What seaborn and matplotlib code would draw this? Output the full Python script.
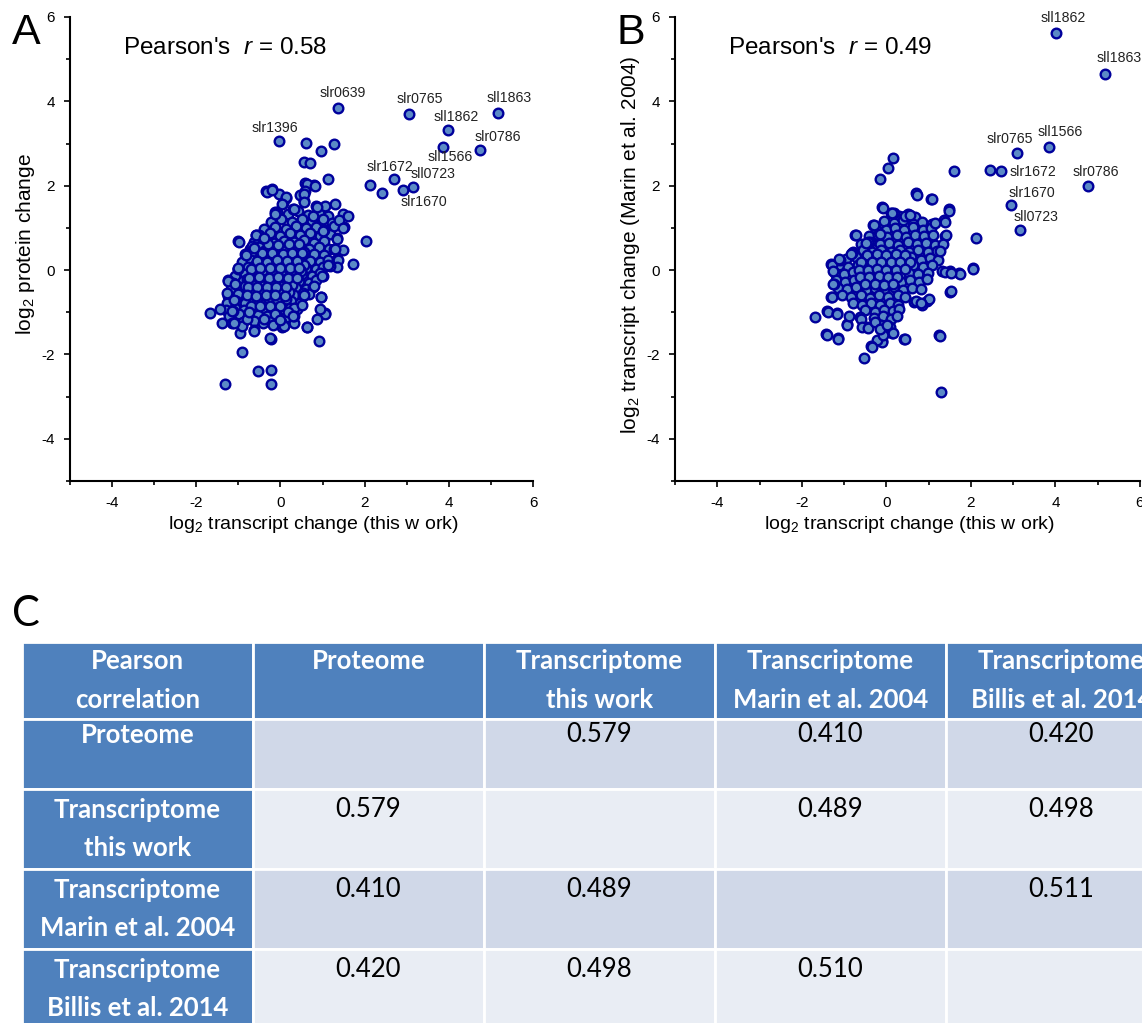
import matplotlib
matplotlib.use("Agg")
import matplotlib.pyplot as plt
import seaborn as sns

# ---- panel A: log2 protein change vs log2 transcript change (this work) ----
# dense centre of the cloud
a_core = [
    (-0.08, 1.38), (0.18, 1.32), (0.42, 1.40), (0.66, 1.30), (0.92, 1.36), (1.12, 1.28),
    (-0.22, 1.15), (0.02, 1.20), (0.27, 1.14), (0.51, 1.22), (0.76, 1.16), (1.00, 1.21), (1.22, 1.12),
    (-0.38, 0.98), (-0.12, 1.03), (0.12, 0.97), (0.36, 1.04), (0.60, 0.99), (0.84, 1.02), (1.08, 0.95),
    (-0.50, 0.84), (-0.26, 0.88), (-0.02, 0.82), (0.22, 0.87), (0.47, 0.83), (0.71, 0.88), (0.95, 0.82), (1.18, 0.86),
    (-0.62, 0.66), (-0.40, 0.71), (-0.16, 0.65), (0.08, 0.70), (0.32, 0.66), (0.56, 0.72), (0.80, 0.65), (1.04, 0.70),
    (-0.72, 0.50), (-0.50, 0.55), (-0.27, 0.49), (-0.04, 0.54), (0.20, 0.50), (0.44, 0.55), (0.68, 0.49), (0.92, 0.54), (1.15, 0.51),
    (-0.82, 0.34), (-0.60, 0.39), (-0.37, 0.33), (-0.14, 0.38), (0.10, 0.34), (0.33, 0.39), (0.57, 0.33), (0.80, 0.38), (1.04, 0.35),
    (-0.92, 0.18), (-0.70, 0.23), (-0.47, 0.17), (-0.24, 0.22), (0.00, 0.18), (0.23, 0.23), (0.46, 0.17), (0.70, 0.22), (0.94, 0.19), (1.12, 0.24),
    (-1.00, 0.02), (-0.78, 0.07), (-0.55, 0.01), (-0.32, 0.06), (-0.09, 0.02), (0.14, 0.07), (0.37, 0.01), (0.60, 0.06), (0.84, 0.02), (1.02, 0.08),
    (-1.08, -0.14), (-0.85, -0.09), (-0.62, -0.15), (-0.40, -0.10), (-0.17, -0.14), (0.06, -0.09), (0.29, -0.15), (0.52, -0.10), (0.75, -0.14), (0.93, -0.08),
    (-1.12, -0.30), (-0.90, -0.25), (-0.68, -0.31), (-0.46, -0.26), (-0.23, -0.30), (0.00, -0.25), (0.22, -0.31), (0.45, -0.26), (0.67, -0.30), (0.85, -0.24),
    (-1.18, -0.46), (-0.96, -0.41), (-0.74, -0.47), (-0.52, -0.42), (-0.30, -0.46), (-0.07, -0.41), (0.15, -0.47), (0.38, -0.42), (0.60, -0.46), (0.78, -0.40),
    (-1.24, -0.62), (-1.02, -0.57), (-0.80, -0.63), (-0.58, -0.58), (-0.36, -0.62), (-0.13, -0.57), (0.09, -0.63), (0.31, -0.58), (0.53, -0.62), (0.68, -0.56),
    (-1.28, -0.78), (-1.06, -0.73), (-0.84, -0.79), (-0.62, -0.74), (-0.40, -0.78), (-0.18, -0.73), (0.04, -0.79), (0.26, -0.74), (0.46, -0.78),
    (-1.30, -0.94), (-1.08, -0.89), (-0.86, -0.95), (-0.64, -0.90), (-0.42, -0.94), (-0.20, -0.89), (0.02, -0.95), (0.22, -0.90), (0.40, -0.93),
    (-1.22, -1.10), (-0.98, -1.05), (-0.76, -1.11), (-0.54, -1.06), (-0.32, -1.10), (-0.10, -1.05), (0.12, -1.11),
    (-0.88, -1.24), (-0.64, -1.20), (-0.42, -1.25), (-0.20, -1.21), (0.02, -1.24),
    (-0.40, 0.45), (-0.15, 0.44), (0.08, 0.45), (0.32, 0.46), (0.55, 0.44),
    (-0.50, 0.28), (-0.27, 0.29), (-0.03, 0.27), (0.21, 0.29), (0.45, 0.28),
    (-0.60, 0.11), (-0.36, 0.12), (-0.13, 0.10), (0.11, 0.12), (0.34, 0.11), (0.57, 0.12),
    (-0.66, -0.05), (-0.44, -0.04), (-0.21, -0.05), (0.02, -0.04), (0.25, -0.05), (0.48, -0.03),
    (-0.80, -0.21), (-0.57, -0.20), (-0.34, -0.22), (-0.11, -0.20), (0.12, -0.21), (0.35, -0.20),
    (-0.85, -0.37), (-0.63, -0.36), (-0.41, -0.38), (-0.18, -0.36), (0.05, -0.37), (0.27, -0.36),
    (-0.70, -0.52), (-0.47, -0.53), (-0.25, -0.51), (-0.02, -0.52), (0.20, -0.53),
    (-0.55, -0.68), (-0.30, -0.67), (-0.08, -0.69), (0.14, -0.68),
    (-0.30, 0.62), (-0.05, 0.60), (0.20, 0.61), (0.45, 0.63),
    (-0.45, 0.40), (-0.20, 0.41), (0.05, 0.39), (0.28, 0.41), (0.52, 0.40),
    (-0.55, 0.22), (-0.32, 0.20), (-0.08, 0.23), (0.16, 0.21), (0.40, 0.22),
    (-0.70, 0.03), (-0.48, 0.05), (-0.25, 0.04), (-0.02, 0.06), (0.22, 0.04), (0.45, 0.05),
    (-0.75, -0.18), (-0.52, -0.17), (-0.28, -0.19), (-0.05, -0.17), (0.18, -0.18), (0.40, -0.19),
    (-0.78, -0.40), (-0.55, -0.39), (-0.33, -0.41), (-0.10, -0.39), (0.12, -0.40),
    (-0.80, -0.60), (-0.58, -0.61), (-0.35, -0.59), (-0.12, -0.60), (0.10, -0.61),
    (-0.70, -0.85), (-0.48, -0.84), (-0.25, -0.86), (-0.02, -0.84),
]
# scattered points round the centre
a_edge = [
    (0.60, 3.01), (1.27, 2.98), (0.97, 2.82), (0.55, 2.57), (0.70, 2.55), (1.13, 2.15),
    (0.59, 2.06), (0.80, 2.01), (0.62, 2.03), (0.83, 1.99), (-0.34, 1.88), (-0.21, 1.92), (0.59, 1.88),
    (-0.04, 1.80), (0.13, 1.72), (0.47, 1.77), (0.55, 1.64), (0.07, 1.59), (0.55, 1.81), (0.57, 1.62),
    (0.85, 1.51), (1.06, 1.51), (1.29, 1.56), (0.87, 1.49), (-0.14, 1.37), (0.30, 1.45), (0.32, 1.44),
    (1.48, 1.33), (1.61, 1.28), (1.27, 1.05), (1.51, 1.02), (1.38, 1.18), (1.49, 1.00), (1.04, 0.96),
    (1.35, 0.76), (1.34, 0.73), (1.28, 0.51), (1.48, 0.47), (1.30, 0.49), (1.34, 0.27), (1.36, 0.25),
    (1.72, 0.15), (1.34, 0.07), (1.17, 0.09), (1.13, 0.11), (1.02, -0.14), (0.99, -0.14), (0.79, -0.37),
    (0.96, -0.64), (0.97, -0.63), (1.06, -1.02), (1.07, -1.03), (0.87, -1.16), (0.62, -1.34),
    (0.63, -1.35), (0.91, -1.69), (0.32, -1.26), (0.32, -0.91), (0.32, -1.09), (0.04, -1.34), (0.08, -1.33),
    (-0.23, -1.63), (-0.25, -1.62), (-0.91, -1.94), (-0.53, -2.39), (-0.23, -2.36), (-0.23, -2.69),
    (-1.31, -2.71), (-1.67, -1.01), (-1.44, -0.92), (-1.40, -1.26), (-1.16, -1.26), (-0.96, -1.50),
    (-0.92, -1.32), (-0.62, -1.42), (-0.63, -1.45), (-1.25, -0.24), (-1.26, -0.55), (-1.24, -0.26),
    (-1.07, -0.34), (-1.02, 0.02), (-1.01, 0.04), (-1.00, 0.68), (-0.99, 0.66), (-0.84, 0.38),
    (-0.83, 0.36), (-0.58, 0.84), (-0.57, 0.83), (-0.68, 0.56), (-0.63, 0.53), (-0.40, 0.77),
    (-0.32, 1.85), (-0.20, 1.89), (0.14, 1.73), (0.04, 1.57), (-0.14, 1.34),
    (-1.10, -0.71), (-1.13, -0.96), (-1.14, -0.96), (-1.11, -1.25), (-0.79, -1.17), (-0.74, -1.00),
    (-0.38, -1.16), (-0.14, -1.04), (-0.18, -1.29), (0.00, -1.19), (0.19, -0.99), (0.30, -1.08),
    (0.52, -0.83), (0.53, -0.55), (0.57, -0.58), (0.78, 1.28), (1.02, 0.92), (2.03, 0.70),
    (2.12, 2.01), (2.41, 1.82), (0.93, -0.93),
]
a_genes = ["slr0639", "slr0765", "sll1863", "sll1862", "slr0786",
           "sll1566", "slr1396", "slr1672", "sll0723", "slr1670"]
a_gene_xy = [(1.37, 3.84), (3.06, 3.70), (5.18, 3.73), (3.99, 3.31), (4.75, 2.84),
             (3.85, 2.91), (-0.03, 3.05), (2.69, 2.15), (3.15, 1.96), (2.92, 1.90)]
a_label_xy = [(1.47, 4.21), (3.31, 4.05), (5.43, 4.08), (4.17, 3.63), (5.17, 3.15),
              (4.03, 2.68), (-0.14, 3.36), (2.61, 2.44), (3.63, 2.27), (3.41, 1.61)]

# ---- panel B: Marin et al. 2004 vs this work ----
b_core = [
    (0.12, 1.35), (0.30, 1.28), (0.50, 1.33), (0.68, 1.25),
    (-0.05, 1.16), (0.18, 1.12), (0.40, 1.18), (0.62, 1.10), (0.85, 1.14), (1.08, 1.10),
    (-0.25, 0.98), (-0.02, 0.95), (0.20, 1.00), (0.42, 0.96), (0.64, 1.01), (0.86, 0.95), (1.05, 0.99),
    (-0.42, 0.80), (-0.20, 0.84), (0.02, 0.79), (0.24, 0.83), (0.46, 0.78), (0.68, 0.84), (0.90, 0.80), (1.10, 0.83),
    (-0.60, 0.62), (-0.38, 0.66), (-0.16, 0.61), (0.06, 0.65), (0.28, 0.60), (0.50, 0.66), (0.72, 0.61), (0.94, 0.65), (1.16, 0.60),
    (-0.78, 0.44), (-0.56, 0.48), (-0.34, 0.43), (-0.12, 0.47), (0.10, 0.42), (0.32, 0.48), (0.54, 0.43), (0.76, 0.47), (0.98, 0.42), (1.20, 0.46),
    (-0.95, 0.27), (-0.73, 0.31), (-0.51, 0.26), (-0.29, 0.30), (-0.07, 0.25), (0.15, 0.31), (0.37, 0.26), (0.59, 0.30), (0.81, 0.25), (1.03, 0.29), (1.22, 0.24),
    (-1.12, 0.12), (-0.90, 0.08), (-0.68, 0.13), (-0.46, 0.07), (-0.24, 0.12), (-0.02, 0.08), (0.20, 0.13), (0.42, 0.07), (0.64, 0.12), (0.86, 0.08), (1.08, 0.11),
    (-1.22, -0.06), (-1.00, -0.10), (-0.78, -0.05), (-0.56, -0.11), (-0.34, -0.06), (-0.12, -0.10), (0.10, -0.05), (0.32, -0.11), (0.54, -0.06), (0.76, -0.10), (0.98, -0.07),
    (-1.20, -0.24), (-0.98, -0.28), (-0.76, -0.23), (-0.54, -0.29), (-0.32, -0.24), (-0.10, -0.28), (0.12, -0.23), (0.34, -0.29), (0.56, -0.24), (0.78, -0.28), (0.95, -0.22),
    (-1.15, -0.42), (-0.93, -0.46), (-0.71, -0.41), (-0.49, -0.47), (-0.27, -0.42), (-0.05, -0.46), (0.17, -0.41), (0.39, -0.47), (0.61, -0.42), (0.82, -0.45),
    (-1.05, -0.60), (-0.83, -0.64), (-0.61, -0.59), (-0.39, -0.65), (-0.17, -0.60), (0.05, -0.64), (0.27, -0.59), (0.45, -0.63),
    (-0.80, -0.78), (-0.58, -0.82), (-0.36, -0.77), (-0.14, -0.83), (0.08, -0.78), (0.28, -0.82),
    (-0.50, -0.95), (-0.28, -0.99), (-0.06, -0.94), (0.16, -0.98), (0.30, -0.92),
    (-0.30, -1.14), (-0.08, -1.10), (0.12, -1.15), (-0.12, -1.30), (0.08, -1.35),
    (-0.45, 0.36), (-0.23, 0.37), (0.00, 0.35), (0.22, 0.37), (0.45, 0.36),
    (-0.60, 0.18), (-0.35, 0.19), (-0.12, 0.18), (0.10, 0.20), (0.32, 0.18), (0.55, 0.19),
    (-0.65, 0.01), (-0.44, 0.00), (-0.22, 0.02), (0.00, 0.01), (0.22, 0.00), (0.44, 0.02),
    (-0.62, -0.16), (-0.40, -0.17), (-0.18, -0.15), (0.04, -0.17), (0.26, -0.16),
    (-0.50, -0.34), (-0.28, -0.33), (-0.06, -0.35), (0.16, -0.33),
]
b_edge = [
    (1.60, 2.34), (0.16, 2.66), (0.05, 2.42), (-0.15, 2.15), (0.70, 1.82), (0.73, 1.79),
    (1.06, 1.68), (1.07, 1.68), (-0.11, 1.50), (-0.09, 1.48), (1.47, 1.44), (1.49, 1.40),
    (0.18, 1.36), (0.14, 1.36), (0.45, 1.28), (0.57, 1.30), (-0.31, 1.07), (-0.30, 1.07),
    (1.37, 1.19), (1.38, 1.15), (1.16, 1.12), (-0.75, 0.84), (-0.73, 0.83), (2.13, 0.76),
    (1.38, 0.82), (1.40, 0.83), (1.35, 0.62), (1.28, 0.45), (-0.43, 0.67), (-0.14, 0.85),
    (2.05, 0.04), (2.05, 0.02), (1.72, -0.08), (1.75, -0.09), (1.50, -0.51), (1.52, -0.50),
    (1.32, -0.02), (1.50, -0.03), (1.38, -0.04), (1.54, -0.06), (0.97, -0.73), (1.00, -0.69),
    (0.84, -0.82), (0.66, -0.75), (0.69, -0.73), (0.81, -0.77), (1.25, -1.54), (1.28, -1.56),
    (1.30, -2.88), (0.41, -1.63), (0.43, -1.63), (0.13, -1.49), (0.15, -1.50), (-0.11, -1.67),
    (-0.10, -1.70), (-0.22, -1.66), (-0.07, -1.54), (-0.37, -1.80), (-0.34, -1.82), (-0.53, -2.08),
    (-1.15, -1.61), (-1.14, -1.63), (-1.43, -1.51), (-1.41, -1.54), (-1.69, -1.12), (-1.41, -0.96),
    (-1.38, -0.99), (-1.17, -1.02), (-1.16, -1.04), (-0.94, -1.28), (-0.92, -1.30), (-0.88, -1.08),
    (-0.62, -1.12), (-0.60, -1.15), (-0.46, -1.35), (-0.58, -1.34), (-0.43, -1.37), (-0.28, -1.24),
    (-0.14, -1.40), (0.02, -1.30), (0.25, -1.09), (-1.30, 0.15), (-1.29, 0.13), (-1.26, -0.02),
    (-1.09, 0.25), (-0.81, 0.40), (-1.30, -0.63), (-1.29, -0.64), (-1.25, -0.34), (-1.26, -0.33),
    (-1.13, 0.27), (-0.84, 0.39), (-0.48, 0.64), (2.44, 2.38),
]
b_genes = ["sll1862", "sll1863", "sll1566", "slr0765",
           "slr1672", "slr0786", "slr1670", "sll0723"]
b_gene_xy = [(4.01, 5.63), (5.17, 4.66), (3.85, 2.91), (3.08, 2.77),
             (2.71, 2.34), (4.78, 2.00), (2.94, 1.54), (3.15, 0.95)]
b_label_xy = [(4.19, 5.97), (5.50, 5.02), (4.10, 3.27), (2.91, 3.10),
              (3.46, 2.32), (4.95, 2.32), (3.44, 1.82), (3.55, 1.26)]

# ---- panel C: correlation table ----
table_cols = ["Pearson\ncorrelation", "Proteome", "Transcriptome\nthis work",
              "Transcriptome\nMarin et al. 2004", "Transcriptome\nBillis et al. 2014"]
table_rows = ["Proteome", "Transcriptome\nthis work",
              "Transcriptome\nMarin et al. 2004", "Transcriptome\nBillis et al. 2014"]
table_values = [
    [None, 0.579, 0.410, 0.420],
    [0.579, None, 0.489, 0.498],
    [0.410, 0.489, None, 0.511],
    [0.420, 0.498, 0.510, None],
]

FACE = "#5b8ac6"
EDGE = "#00009c"
HEAD = "#4f81bd"
BAND = ["#d0d8e8", "#e9edf4"]

sns.set_style("ticks")
plt.rcParams["font.family"] = ["Liberation Sans", "DejaVu Sans"]
plt.rcParams["mathtext.fontset"] = "custom"
plt.rcParams["mathtext.rm"] = "Liberation Sans"
plt.rcParams["mathtext.it"] = "Liberation Sans:italic"
plt.rcParams["axes.unicode_minus"] = False
for key in ("text.color", "axes.labelcolor", "xtick.color", "ytick.color"):
    plt.rcParams[key] = "black"

W, H = 1142, 1023
fig = plt.figure(figsize=(W / 100, H / 100), dpi=100)


def scatter_panel(rect, pts, gene_xy, genes, label_xy, r, ylabel, xlab_pos):
    ax = fig.add_axes(rect)
    allpts = pts + gene_xy
    xs = [p[0] for p in allpts]
    ys = [p[1] for p in allpts]
    sns.scatterplot(x=xs, y=ys, ax=ax, s=48, color=FACE, edgecolor=EDGE,
                    linewidth=1.7, legend=False, zorder=3)
    for name, (lx, ly) in zip(genes, label_xy):
        ax.text(lx, ly, name, ha="center", va="center", fontsize=10.2, color="#222222")
    ax.text(-3.74, 5.13, f"Pearson's  $r$ = {r}", fontsize=17.5, va="baseline")
    ax.set_xlim(-5, 6)
    ax.set_ylim(-5, 6)
    ax.set_xticks(range(-4, 7, 2))
    ax.set_yticks(range(-4, 7, 2))
    ax.set_xticks(range(-5, 7, 2), minor=True)
    ax.set_yticks(range(-5, 7, 2), minor=True)
    ax.tick_params(which="major", length=4, width=1.2, labelsize=11, pad=7)
    ax.tick_params(which="minor", length=3, width=1.2)
    for s in ("left", "bottom"):
        ax.spines[s].set_linewidth(1.5)
        ax.spines[s].set_color("black")
    sns.despine(ax=ax)
    ax.set_xlabel("log$_2$ transcript change (this w ork)", fontsize=14)
    ax.set_ylabel(ylabel, fontsize=15)
    ax.xaxis.set_label_coords(xlab_pos, -0.072)
    ax.yaxis.set_label_coords(-0.072, 0.51)
    return ax


scatter_panel([70 / W, 1 - 481 / H, 463 / W, 464 / H], a_core + a_edge, a_gene_xy,
              a_genes, a_label_xy, "0.58", "log$_2$ protein change", 0.525)
scatter_panel([675 / W, 1 - 481 / H, 465 / W, 464 / H], b_core + b_edge, b_gene_xy,
              b_genes, b_label_xy, "0.49", "log$_2$ transcript change (Marin et al. 2004)",
              0.505)

fig.text(12 / W, 1 - 44 / H, "A", fontsize=31, va="baseline")
fig.text(616 / W, 1 - 44 / H, "B", fontsize=31, va="baseline")
fig.text(12 / W, 1 - 626 / H, "C", fontsize=30, va="baseline", family="Lato")

# table
ax_t = fig.add_axes([0, 0, 1, 1])
ax_t.axis("off")
cells = [[table_rows[i]] + [("" if v is None else f"{v:.3f}") for v in row]
         for i, row in enumerate(table_values)]
tab = ax_t.table(cellText=cells, colLabels=table_cols, cellLoc="center",
                 bbox=[22 / W, 1 - 1029 / H, 1155 / W, 387 / H])
tab.auto_set_font_size(False)
row_h = [77, 70, 80, 80, 80]
for (ri, ci), cell in tab.get_celld().items():
    cell.set_height(row_h[ri])
    cell.set_width(231)
    cell.set_edgecolor("white")
    cell.set_linewidth(2.0)
    txt = cell.get_text()
    label = txt.get_text()
    if "\n" not in label and label:
        txt.set_text(label + "\n")
    txt.set_fontfamily("Lato")
    txt.set_fontsize(18.5)
    txt.set_linespacing(1.72)
    if ri == 0 or ci == 0:
        cell.set_facecolor(HEAD)
        txt.set_color("white")
        txt.set_fontweight("bold")
    else:
        cell.set_facecolor(BAND[(ri - 1) % 2])
        txt.set_color("black")

fig.savefig("out.png", dpi=100)
